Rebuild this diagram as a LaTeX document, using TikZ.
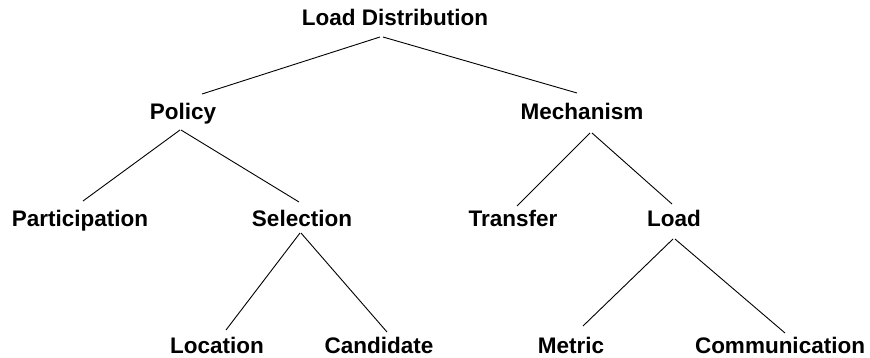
\documentclass[tikz,border=0pt]{standalone}
\usepackage{fontspec}
\setmainfont{Liberation Sans}
\begin{document}
\begin{tikzpicture}[x=1pt,y=-1pt,
  lbl/.style={anchor=base,inner sep=0pt,font=\fontsize{22.5}{27}\selectfont\bfseries},
  edge/.style={line width=0.9pt,black}]
\useasboundingbox (0,0) rectangle (870,358);
\node[lbl] (ld) at (395,26) {Load Distribution};
\node[lbl] (pol) at (183,120) {Policy};
\node[lbl] (mech) at (582,120) {Mechanism};
\node[lbl] (part) at (80,227) {Participation};
\node[lbl] (sel) at (302,227) {Selection};
\node[lbl] (trans) at (513,227) {Transfer};
\node[lbl] (load) at (674,227) {Load};
\node[lbl] (loc) at (217,353) {Location};
\node[lbl] (cand) at (379,353) {Candidate};
\node[lbl] (met) at (571,353) {Metric};
\node[lbl] (comm) at (780,353) {Communication};

\draw[edge] ([xshift=-15pt,yshift=-11pt]ld.base) -- ([xshift=19pt,yshift=26pt]pol.base);
\draw[edge] ([xshift=-12pt,yshift=-11pt]ld.base) -- ([xshift=-5pt,yshift=27pt]mech.base);
\draw[edge] ([xshift=-3pt,yshift=-10pt]pol.base) -- ([xshift=3pt,yshift=26pt]part.base);
\draw[edge] ([xshift=-2pt,yshift=-10pt]pol.base) -- ([xshift=-3pt,yshift=25pt]sel.base);
\draw[edge] ([xshift=8pt,yshift=-13pt]mech.base) -- ([xshift=4pt,yshift=21pt]trans.base);
\draw[edge] ([xshift=10pt,yshift=-13pt]mech.base) -- ([xshift=-2pt,yshift=23pt]load.base);
\draw[edge] ([xshift=-2pt,yshift=-6pt]sel.base) -- ([xshift=9pt,yshift=23pt]loc.base);
\draw[edge] ([xshift=-1pt,yshift=-6pt]sel.base) -- ([xshift=8pt,yshift=21pt]cand.base);
\draw[edge] ([xshift=-1pt,yshift=-12pt]load.base) -- ([xshift=12pt,yshift=27pt]met.base);
\draw[edge] ([xshift=1pt,yshift=-12pt]load.base) -- ([xshift=5pt,yshift=20pt]comm.base);
\end{tikzpicture}
\end{document}
